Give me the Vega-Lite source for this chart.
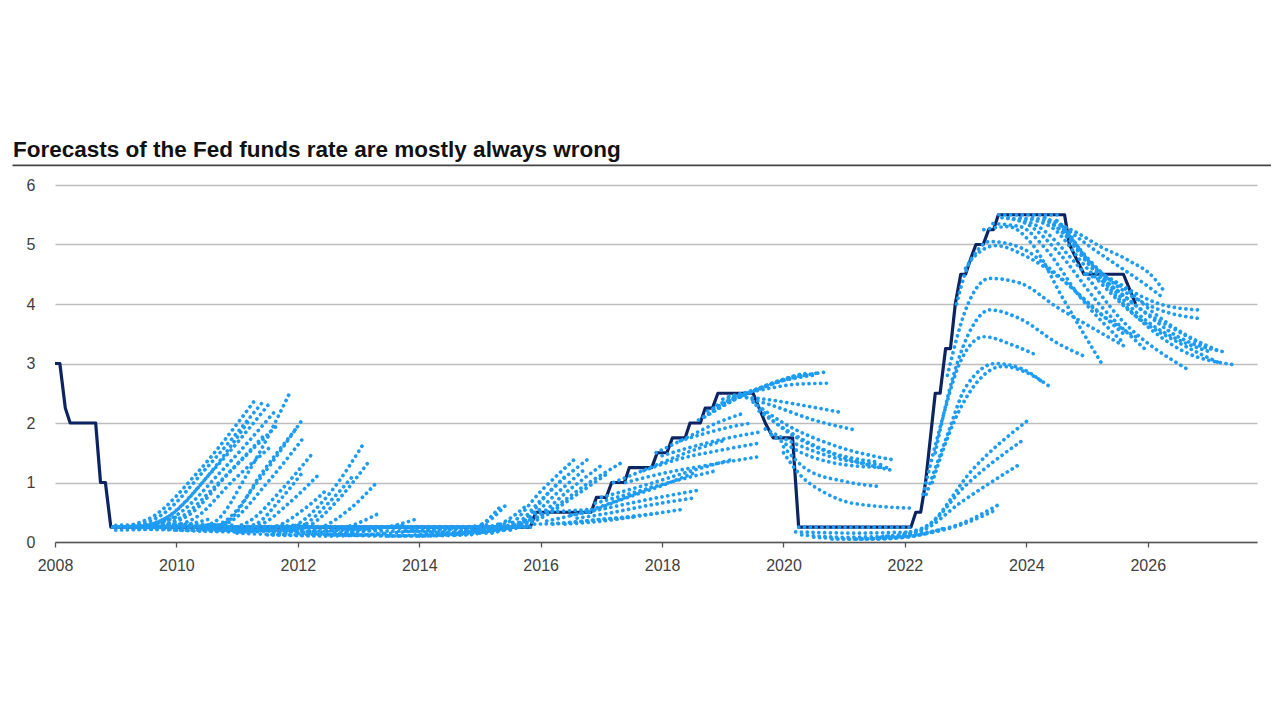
{
"$schema":"https://vega.github.io/schema/vega-lite/v6.json",
"width":1202,"height":357,
"autosize":{"type":"none"},
"padding":{"left":55,"top":185,"right":23,"bottom":178},
"background":"white",
"title":{"text":"Forecasts of the Fed funds rate are mostly always wrong","anchor":"start","frame":"group","dx":-42,"offset":3,"fontSize":22.5,"fontWeight":"bold","font":"Liberation Sans","color":"#111111"},
"config":{"view":{"stroke":null},"axis":{"labelFont":"Liberation Sans","labelFontSize":16,"labelColor":"#404040","title":null}},
"datasets":{
"rule":[{"t":2007.3,"t2":2028.03,"r":6.33}],
"rate":[
{"t":2008.0,"r":3.0},{"t":2008.08,"r":3.0},{"t":2008.17,"r":2.25},{"t":2008.25,"r":2.0},{"t":2008.67,"r":2.0},{"t":2008.75,"r":1.0},{"t":2008.83,"r":1.0},{"t":2008.92,"r":0.25},
{"t":2015.83,"r":0.25},{"t":2015.92,"r":0.5},{"t":2016.83,"r":0.5},{"t":2016.92,"r":0.75},{"t":2017.08,"r":0.75},{"t":2017.17,"r":1.0},{"t":2017.38,"r":1.0},{"t":2017.46,"r":1.25},{"t":2017.83,"r":1.25},{"t":2017.92,"r":1.5},{"t":2018.08,"r":1.5},{"t":2018.17,"r":1.75},{"t":2018.38,"r":1.75},{"t":2018.46,"r":2.0},{"t":2018.63,"r":2.0},{"t":2018.71,"r":2.25},{"t":2018.83,"r":2.25},{"t":2018.92,"r":2.5},
{"t":2019.5,"r":2.5},{"t":2019.6,"r":2.25},{"t":2019.7,"r":2.0},{"t":2019.83,"r":1.75},{"t":2020.15,"r":1.75},{"t":2020.25,"r":0.25},
{"t":2022.1,"r":0.25},{"t":2022.18,"r":0.5},{"t":2022.26,"r":0.5},{"t":2022.34,"r":1.0},{"t":2022.42,"r":1.75},{"t":2022.5,"r":2.5},{"t":2022.58,"r":2.5},{"t":2022.67,"r":3.25},{"t":2022.75,"r":3.25},{"t":2022.83,"r":4.0},{"t":2022.92,"r":4.5},{"t":2023.0,"r":4.5},{"t":2023.08,"r":4.75},{"t":2023.17,"r":5.0},{"t":2023.29,"r":5.0},{"t":2023.38,"r":5.25},{"t":2023.46,"r":5.25},{"t":2023.54,"r":5.5},
{"t":2024.63,"r":5.5},{"t":2024.71,"r":5.0},{"t":2024.83,"r":4.75},{"t":2024.95,"r":4.5},{"t":2025.6,"r":4.5},{"t":2025.7,"r":4.25},{"t":2025.8,"r":4.0}
],
"fc":[
{"id":"h0","t":2008.95,"r":0.25},{"id":"h0","t":2012.0,"r":0.25},{"id":"h0","t":2015.85,"r":0.25},
{"id":"h0b","t":2008.99,"r":0.26},{"id":"h0b","t":2012.0,"r":0.26},{"id":"h0b","t":2015.8,"r":0.26},
{"id":"m1","t":2009.0,"r":0.28},{"id":"m1","t":2010.0,"r":0.3},{"id":"m1","t":2011.0,"r":0.28},
{"id":"m2","t":2009.3,"r":0.22},{"id":"m2","t":2010.3,"r":0.2},{"id":"m2","t":2011.3,"r":0.22},
{"id":"m3","t":2009.8,"r":0.22},{"id":"m3","t":2010.8,"r":0.18},{"id":"m3","t":2011.8,"r":0.2},
{"id":"m4","t":2010.2,"r":0.27},{"id":"m4","t":2011.2,"r":0.25},{"id":"m4","t":2012.2,"r":0.3},
{"id":"m5","t":2011.2,"r":0.2},{"id":"m5","t":2012.2,"r":0.18},{"id":"m5","t":2013.2,"r":0.22},
{"id":"m6","t":2011.8,"r":0.25},{"id":"m6","t":2012.8,"r":0.22},{"id":"m6","t":2013.8,"r":0.28},
{"id":"m7","t":2012.8,"r":0.2},{"id":"m7","t":2013.8,"r":0.18},{"id":"m7","t":2014.8,"r":0.25},
{"id":"m8","t":2013.2,"r":0.25},{"id":"m8","t":2014.2,"r":0.22},{"id":"m8","t":2015.2,"r":0.3},
{"id":"m9","t":2014.5,"r":0.2},{"id":"m9","t":2015.2,"r":0.22},{"id":"m9","t":2015.9,"r":0.4},
{"id":"m10","t":2013.8,"r":0.18},{"id":"m10","t":2014.8,"r":0.16},{"id":"m10","t":2015.6,"r":0.25},
{"id":"a0","t":2008.95,"r":0.25},{"id":"a0","t":2009.5,"r":0.28},{"id":"a0","t":2010.0,"r":0.42},
{"id":"a0b","t":2009.0,"r":0.2},{"id":"a0b","t":2009.6,"r":0.22},{"id":"a0b","t":2010.2,"r":0.3},{"id":"a0b","t":2010.6,"r":0.4},
{"id":"a1","t":2009.2,"r":0.27},{"id":"a1","t":2009.6,"r":0.42},{"id":"a1","t":2010.34,"r":1.16},{"id":"a1","t":2011.32,"r":2.42},
{"id":"a2","t":2009.3,"r":0.26},{"id":"a2","t":2009.75,"r":0.45},{"id":"a2","t":2010.5,"r":1.25},{"id":"a2","t":2011.42,"r":2.35},
{"id":"a3","t":2009.4,"r":0.25},{"id":"a3","t":2009.85,"r":0.42},{"id":"a3","t":2010.6,"r":1.2},{"id":"a3","t":2011.51,"r":2.3},
{"id":"a4","t":2009.5,"r":0.25},{"id":"a4","t":2010.0,"r":0.45},{"id":"a4","t":2010.75,"r":1.2},{"id":"a4","t":2011.6,"r":2.17},
{"id":"a5","t":2009.45,"r":0.25},{"id":"a5","t":2009.9,"r":0.45},{"id":"a5","t":2010.55,"r":1.15},{"id":"a5","t":2011.2,"r":2.05},
{"id":"a6","t":2009.6,"r":0.25},{"id":"a6","t":2010.05,"r":0.4},{"id":"a6","t":2010.7,"r":1.0},{"id":"a6","t":2011.45,"r":1.8},
{"id":"a7","t":2009.7,"r":0.25},{"id":"a7","t":2010.2,"r":0.45},{"id":"a7","t":2010.9,"r":1.2},{"id":"a7","t":2011.65,"r":1.95},
{"id":"a8","t":2009.8,"r":0.25},{"id":"a8","t":2010.3,"r":0.4},{"id":"a8","t":2010.95,"r":1.05},{"id":"a8","t":2011.55,"r":1.6},
{"id":"a9","t":2010.3,"r":0.25},{"id":"a9","t":2010.6,"r":0.32},{"id":"a9","t":2011.2,"r":1.2},{"id":"a9","t":2011.86,"r":2.49},
{"id":"a10","t":2010.4,"r":0.22},{"id":"a10","t":2010.8,"r":0.35},{"id":"a10","t":2011.4,"r":1.1},{"id":"a10","t":2012.05,"r":2.02},
{"id":"a11","t":2010.5,"r":0.22},{"id":"a11","t":2010.9,"r":0.35},{"id":"a11","t":2011.5,"r":1.0},{"id":"a11","t":2012.1,"r":1.76},
{"id":"a12","t":2010.45,"r":0.22},{"id":"a12","t":2010.85,"r":0.35},{"id":"a12","t":2011.4,"r":1.15},{"id":"a12","t":2011.99,"r":1.93},
{"id":"a13","t":2010.7,"r":0.2},{"id":"a13","t":2011.2,"r":0.35},{"id":"a13","t":2011.75,"r":0.9},{"id":"a13","t":2012.25,"r":1.5},
{"id":"a14","t":2010.9,"r":0.2},{"id":"a14","t":2011.4,"r":0.3},{"id":"a14","t":2011.85,"r":0.65},{"id":"a14","t":2012.34,"r":1.13},
{"id":"a15","t":2010.8,"r":0.2},{"id":"a15","t":2011.3,"r":0.3},{"id":"a15","t":2011.7,"r":0.7},{"id":"a15","t":2012.1,"r":1.2},
{"id":"a16","t":2011.0,"r":0.18},{"id":"a16","t":2011.6,"r":0.25},{"id":"a16","t":2012.1,"r":0.55},{"id":"a16","t":2012.5,"r":0.9},
{"id":"a17","t":2011.6,"r":0.15},{"id":"a17","t":2012.0,"r":0.3},{"id":"a17","t":2012.55,"r":0.85},{"id":"a17","t":2013.08,"r":1.65},
{"id":"a18","t":2011.8,"r":0.15},{"id":"a18","t":2012.2,"r":0.28},{"id":"a18","t":2012.7,"r":0.75},{"id":"a18","t":2013.19,"r":1.38},
{"id":"a19","t":2012.0,"r":0.15},{"id":"a19","t":2012.4,"r":0.25},{"id":"a19","t":2012.85,"r":0.55},{"id":"a19","t":2013.3,"r":1.0},
{"id":"a20","t":2011.7,"r":0.15},{"id":"a20","t":2012.1,"r":0.28},{"id":"a20","t":2012.5,"r":0.65},{"id":"a20","t":2012.9,"r":1.1},
{"id":"a21","t":2012.2,"r":0.15},{"id":"a21","t":2012.6,"r":0.2},{"id":"a21","t":2013.0,"r":0.32},{"id":"a21","t":2013.33,"r":0.48},
{"id":"a22","t":2012.6,"r":0.15},{"id":"a22","t":2013.1,"r":0.18},{"id":"a22","t":2013.6,"r":0.28},{"id":"a22","t":2014.0,"r":0.4},
{"id":"l1","t":2010.0,"r":0.2},{"id":"l1","t":2011.0,"r":0.17},{"id":"l1","t":2012.0,"r":0.2},
{"id":"l2","t":2011.0,"r":0.15},{"id":"l2","t":2012.0,"r":0.12},{"id":"l2","t":2013.0,"r":0.15},
{"id":"l3","t":2011.5,"r":0.12},{"id":"l3","t":2012.5,"r":0.1},{"id":"l3","t":2013.5,"r":0.15},
{"id":"l4","t":2012.0,"r":0.15},{"id":"l4","t":2013.0,"r":0.12},{"id":"l4","t":2014.0,"r":0.2},
{"id":"l5","t":2012.5,"r":0.12},{"id":"l5","t":2013.5,"r":0.1},{"id":"l5","t":2014.5,"r":0.18},
{"id":"l6","t":2013.0,"r":0.12},{"id":"l6","t":2014.0,"r":0.1},{"id":"l6","t":2015.0,"r":0.2},
{"id":"l7","t":2013.5,"r":0.1},{"id":"l7","t":2014.5,"r":0.12},{"id":"l7","t":2015.3,"r":0.3},
{"id":"l8","t":2014.0,"r":0.1},{"id":"l8","t":2014.8,"r":0.12},{"id":"l8","t":2015.5,"r":0.35},
{"id":"l9","t":2010.5,"r":0.22},{"id":"l9","t":2011.5,"r":0.2},{"id":"l9","t":2012.3,"r":0.26},
{"id":"b1","t":2014.3,"r":0.12},{"id":"b1","t":2014.8,"r":0.2},{"id":"b1","t":2015.2,"r":0.4},{"id":"b1","t":2015.47,"r":0.67},
{"id":"b2","t":2014.2,"r":0.12},{"id":"b2","t":2014.7,"r":0.18},{"id":"b2","t":2015.1,"r":0.35},{"id":"b2","t":2015.33,"r":0.59},
{"id":"b3","t":2014.6,"r":0.12},{"id":"b3","t":2015.1,"r":0.2},{"id":"b3","t":2015.5,"r":0.4},{"id":"b3","t":2015.75,"r":0.6},
{"id":"b4","t":2015.0,"r":0.15},{"id":"b4","t":2015.5,"r":0.3},{"id":"b4","t":2016.0,"r":0.85},{"id":"b4","t":2016.6,"r":1.43},
{"id":"b5","t":2015.2,"r":0.15},{"id":"b5","t":2015.7,"r":0.35},{"id":"b5","t":2016.2,"r":0.9},{"id":"b5","t":2016.79,"r":1.4},
{"id":"b6","t":2015.4,"r":0.2},{"id":"b6","t":2015.9,"r":0.4},{"id":"b6","t":2016.5,"r":0.9},{"id":"b6","t":2017.03,"r":1.31},
{"id":"b7","t":2015.6,"r":0.25},{"id":"b7","t":2016.1,"r":0.5},{"id":"b7","t":2016.8,"r":1.0},{"id":"b7","t":2017.36,"r":1.35},
{"id":"b8","t":2015.1,"r":0.15},{"id":"b8","t":2015.6,"r":0.3},{"id":"b8","t":2016.0,"r":0.7},{"id":"b8","t":2016.4,"r":1.1},
{"id":"b9","t":2015.3,"r":0.2},{"id":"b9","t":2015.8,"r":0.4},{"id":"b9","t":2016.3,"r":0.85},{"id":"b9","t":2016.7,"r":1.2},
{"id":"b10","t":2015.5,"r":0.2},{"id":"b10","t":2016.0,"r":0.4},{"id":"b10","t":2016.6,"r":0.8},{"id":"b10","t":2017.1,"r":1.15},
{"id":"b11","t":2016.5,"r":0.45},{"id":"b11","t":2017.0,"r":0.55},{"id":"b11","t":2017.8,"r":0.72},{"id":"b11","t":2018.6,"r":0.87},
{"id":"b12","t":2016.6,"r":0.4},{"id":"b12","t":2017.1,"r":0.48},{"id":"b12","t":2017.8,"r":0.62},{"id":"b12","t":2018.52,"r":0.74},
{"id":"b13","t":2016.4,"r":0.3},{"id":"b13","t":2017.0,"r":0.35},{"id":"b13","t":2017.7,"r":0.45},{"id":"b13","t":2018.35,"r":0.55},
{"id":"b14","t":2016.2,"r":0.3},{"id":"b14","t":2016.7,"r":0.35},{"id":"b14","t":2017.4,"r":0.42},{"id":"b14","t":2017.97,"r":0.49},
{"id":"b15","t":2015.9,"r":0.3},{"id":"b15","t":2016.4,"r":0.32},{"id":"b15","t":2017.0,"r":0.38},{"id":"b15","t":2017.53,"r":0.42},
{"id":"b16","t":2016.1,"r":0.35},{"id":"b16","t":2016.7,"r":0.5},{"id":"b16","t":2017.4,"r":0.75},{"id":"b16","t":2017.9,"r":0.95},
{"id":"b17","t":2016.8,"r":0.5},{"id":"b17","t":2017.3,"r":0.7},{"id":"b17","t":2018.0,"r":0.95},{"id":"b17","t":2018.5,"r":1.15},
{"id":"b18","t":2015.9,"r":0.5},{"id":"b18","t":2016.4,"r":0.52},{"id":"b18","t":2016.85,"r":0.55},
{"id":"c1","t":2017.4,"r":1.0},{"id":"c1","t":2018.0,"r":1.15},{"id":"c1","t":2018.8,"r":1.3},{"id":"c1","t":2019.57,"r":1.43},
{"id":"c2","t":2017.7,"r":1.2},{"id":"c2","t":2018.3,"r":1.4},{"id":"c2","t":2019.0,"r":1.55},{"id":"c2","t":2019.59,"r":1.66},
{"id":"c3","t":2018.0,"r":1.45},{"id":"c3","t":2018.5,"r":1.6},{"id":"c3","t":2019.1,"r":1.75},{"id":"c3","t":2019.62,"r":1.85},
{"id":"c4","t":2018.3,"r":1.7},{"id":"c4","t":2018.8,"r":1.85},{"id":"c4","t":2019.2,"r":1.95},{"id":"c4","t":2019.46,"r":2.0},
{"id":"c5","t":2017.0,"r":0.75},{"id":"c5","t":2017.7,"r":0.95},{"id":"c5","t":2018.5,"r":1.2},{"id":"c5","t":2019.2,"r":1.4},
{"id":"c6","t":2016.9,"r":0.65},{"id":"c6","t":2017.6,"r":0.85},{"id":"c6","t":2018.3,"r":1.05},{"id":"c6","t":2018.9,"r":1.2},
{"id":"c7","t":2017.2,"r":1.0},{"id":"c7","t":2017.8,"r":1.25},{"id":"c7","t":2018.4,"r":1.5},{"id":"c7","t":2019.0,"r":1.7},
{"id":"c8","t":2017.9,"r":1.5},{"id":"c8","t":2018.4,"r":1.75},{"id":"c8","t":2018.9,"r":2.0},{"id":"c8","t":2019.3,"r":2.15},
{"id":"d1","t":2018.6,"r":2.05},{"id":"d1","t":2019.2,"r":2.4},{"id":"d1","t":2019.8,"r":2.65},{"id":"d1","t":2020.23,"r":2.81},
{"id":"d1b","t":2018.7,"r":2.1},{"id":"d1b","t":2019.25,"r":2.42},{"id":"d1b","t":2019.85,"r":2.68},{"id":"d1b","t":2020.32,"r":2.83},
{"id":"d2","t":2018.75,"r":2.2},{"id":"d2","t":2019.3,"r":2.45},{"id":"d2","t":2019.9,"r":2.7},{"id":"d2","t":2020.4,"r":2.84},
{"id":"d2b","t":2018.85,"r":2.25},{"id":"d2b","t":2019.35,"r":2.48},{"id":"d2b","t":2019.95,"r":2.7},{"id":"d2b","t":2020.48,"r":2.8},
{"id":"d3","t":2018.9,"r":2.3},{"id":"d3","t":2019.4,"r":2.5},{"id":"d3","t":2020.0,"r":2.72},{"id":"d3","t":2020.56,"r":2.84},
{"id":"d4","t":2019.0,"r":2.4},{"id":"d4","t":2019.5,"r":2.55},{"id":"d4","t":2020.1,"r":2.75},{"id":"d4","t":2020.72,"r":2.86},
{"id":"d5","t":2019.1,"r":2.45},{"id":"d5","t":2019.6,"r":2.55},{"id":"d5","t":2020.2,"r":2.65},{"id":"d5","t":2020.8,"r":2.67},
{"id":"d6","t":2019.2,"r":2.45},{"id":"d6","t":2019.7,"r":2.4},{"id":"d6","t":2020.3,"r":2.3},{"id":"d6","t":2020.99,"r":2.17},
{"id":"d7","t":2019.3,"r":2.45},{"id":"d7","t":2019.8,"r":2.3},{"id":"d7","t":2020.5,"r":2.05},{"id":"d7","t":2021.19,"r":1.88},
{"id":"d8","t":2019.5,"r":2.35},{"id":"d8","t":2020.0,"r":2.0},{"id":"d8","t":2020.9,"r":1.6},{"id":"d8","t":2021.81,"r":1.38},
{"id":"d9","t":2019.55,"r":2.3},{"id":"d9","t":2020.0,"r":1.9},{"id":"d9","t":2020.9,"r":1.45},{"id":"d9","t":2021.76,"r":1.21},
{"id":"d10","t":2020.0,"r":1.6},{"id":"d10","t":2020.4,"r":1.21},{"id":"d10","t":2021.0,"r":1.02},{"id":"d10","t":2021.6,"r":0.93},
{"id":"d11","t":2019.7,"r":1.9},{"id":"d11","t":2020.2,"r":1.65},{"id":"d11","t":2020.9,"r":1.4},{"id":"d11","t":2021.6,"r":1.3},
{"id":"d12","t":2019.8,"r":1.8},{"id":"d12","t":2020.3,"r":1.5},{"id":"d12","t":2021.0,"r":1.3},{"id":"d12","t":2021.7,"r":1.25},
{"id":"d13","t":2020.0,"r":1.5},{"id":"d13","t":2020.3,"r":1.1},{"id":"d13","t":2020.66,"r":0.84},{"id":"d13","t":2021.15,"r":0.65},{"id":"d13","t":2022.09,"r":0.57},
{"id":"d14","t":2019.6,"r":2.2},{"id":"d14","t":2020.1,"r":1.85},{"id":"d14","t":2020.8,"r":1.5},{"id":"d14","t":2021.5,"r":1.35},
{"id":"e0","t":2020.2,"r":0.17},{"id":"e0","t":2021.2,"r":0.15},{"id":"e0","t":2022.1,"r":0.17},
{"id":"e1","t":2020.3,"r":0.12},{"id":"e1","t":2021.0,"r":0.08},{"id":"e1","t":2021.8,"r":0.1},
{"id":"e2","t":2020.5,"r":0.08},{"id":"e2","t":2021.3,"r":0.05},{"id":"e2","t":2022.1,"r":0.1},
{"id":"e3","t":2020.8,"r":0.05},{"id":"e3","t":2021.6,"r":0.05},{"id":"e3","t":2022.4,"r":0.15},
{"id":"e4","t":2021.2,"r":0.05},{"id":"e4","t":2022.0,"r":0.08},{"id":"e4","t":2022.7,"r":0.25},
{"id":"h2","t":2020.25,"r":0.25},{"id":"h2","t":2021.2,"r":0.25},{"id":"h2","t":2022.1,"r":0.25},
{"id":"f1","t":2021.7,"r":0.1},{"id":"f1","t":2022.3,"r":0.15},{"id":"f1","t":2022.9,"r":0.3},{"id":"f1","t":2023.58,"r":0.65},
{"id":"f2","t":2021.6,"r":0.08},{"id":"f2","t":2022.2,"r":0.12},{"id":"f2","t":2022.9,"r":0.28},{"id":"f2","t":2023.5,"r":0.54},
{"id":"f3","t":2021.8,"r":0.1},{"id":"f3","t":2022.3,"r":0.2},{"id":"f3","t":2022.9,"r":0.65},{"id":"f3","t":2023.88,"r":1.3},
{"id":"f4","t":2021.9,"r":0.12},{"id":"f4","t":2022.35,"r":0.25},{"id":"f4","t":2023.0,"r":0.95},{"id":"f4","t":2023.94,"r":1.71},
{"id":"f5","t":2022.0,"r":0.15},{"id":"f5","t":2022.4,"r":0.3},{"id":"f5","t":2023.1,"r":1.2},{"id":"f5","t":2024.07,"r":2.08},
{"id":"f6","t":2022.3,"r":0.8},{"id":"f6","t":2022.6,"r":2.0},{"id":"f6","t":2022.9,"r":3.0},{"id":"f6","t":2023.3,"r":3.45},{"id":"f6","t":2023.8,"r":3.3},{"id":"f6","t":2024.15,"r":3.15},
{"id":"f7","t":2022.35,"r":0.8},{"id":"f7","t":2022.7,"r":1.8},{"id":"f7","t":2023.0,"r":2.6},{"id":"f7","t":2023.5,"r":3.0},{"id":"f7","t":2023.95,"r":2.9},{"id":"f7","t":2024.29,"r":2.67},
{"id":"f8","t":2022.45,"r":1.0},{"id":"f8","t":2022.8,"r":2.0},{"id":"f8","t":2023.2,"r":2.7},{"id":"f8","t":2023.6,"r":2.95},{"id":"f8","t":2024.0,"r":2.85},{"id":"f8","t":2024.43,"r":2.58},
{"id":"f9","t":2022.5,"r":1.5},{"id":"f9","t":2022.8,"r":2.8},{"id":"f9","t":2023.1,"r":3.6},{"id":"f9","t":2023.4,"r":3.9},{"id":"f9","t":2023.9,"r":3.75},{"id":"f9","t":2024.5,"r":3.35},{"id":"f9","t":2025.0,"r":3.1},
{"id":"f10","t":2022.7,"r":2.8},{"id":"f10","t":2023.0,"r":3.9},{"id":"f10","t":2023.4,"r":4.43},{"id":"f10","t":2023.9,"r":4.35},{"id":"f10","t":2024.5,"r":3.95},{"id":"f10","t":2025.0,"r":3.65},{"id":"f10","t":2025.6,"r":3.3},
{"id":"f11","t":2022.85,"r":4.0},{"id":"f11","t":2023.1,"r":4.75},{"id":"f11","t":2023.5,"r":4.98},{"id":"f11","t":2024.0,"r":4.8},{"id":"f11","t":2024.6,"r":4.4},{"id":"f11","t":2025.1,"r":3.95},{"id":"f11","t":2025.6,"r":3.5},
{"id":"g0","t":2023.0,"r":4.6},{"id":"g0","t":2023.4,"r":5.05},{"id":"g0","t":2023.9,"r":4.95},{"id":"g0","t":2024.5,"r":4.5},{"id":"g0","t":2025.2,"r":3.85},{"id":"g0","t":2025.8,"r":3.45},
{"id":"h1","t":2023.55,"r":5.5},{"id":"h1","t":2024.0,"r":5.5},{"id":"h1","t":2024.6,"r":5.5},
{"id":"g1","t":2023.3,"r":5.25},{"id":"g1","t":2023.7,"r":5.3},{"id":"g1","t":2024.1,"r":5.0},{"id":"g1","t":2024.6,"r":4.1},{"id":"g1","t":2025.27,"r":2.95},
{"id":"g2","t":2023.45,"r":5.35},{"id":"g2","t":2023.9,"r":5.3},{"id":"g2","t":2024.3,"r":4.95},{"id":"g2","t":2024.9,"r":4.1},{"id":"g2","t":2025.6,"r":3.35},
{"id":"g3","t":2023.6,"r":5.45},{"id":"g3","t":2024.0,"r":5.35},{"id":"g3","t":2024.5,"r":4.9},{"id":"g3","t":2025.2,"r":4.0},{"id":"g3","t":2026.0,"r":3.2},
{"id":"g4","t":2023.7,"r":5.45},{"id":"g4","t":2024.2,"r":5.3},{"id":"g4","t":2024.8,"r":4.7},{"id":"g4","t":2025.6,"r":3.7},{"id":"g4","t":2026.66,"r":2.9},
{"id":"g5","t":2023.9,"r":5.45},{"id":"g5","t":2024.4,"r":5.3},{"id":"g5","t":2025.0,"r":4.6},{"id":"g5","t":2025.8,"r":3.8},{"id":"g5","t":2026.6,"r":3.3},{"id":"g5","t":2027.2,"r":3.0},
{"id":"g6","t":2024.1,"r":5.45},{"id":"g6","t":2024.5,"r":5.3},{"id":"g6","t":2025.0,"r":4.7},{"id":"g6","t":2025.8,"r":3.8},{"id":"g6","t":2026.6,"r":3.2},{"id":"g6","t":2027.42,"r":2.98},
{"id":"g7","t":2024.3,"r":5.45},{"id":"g7","t":2024.6,"r":5.2},{"id":"g7","t":2025.1,"r":4.6},{"id":"g7","t":2025.9,"r":3.9},{"id":"g7","t":2026.5,"r":3.45},{"id":"g7","t":2027.28,"r":3.19},
{"id":"g8","t":2024.5,"r":5.4},{"id":"g8","t":2024.8,"r":5.0},{"id":"g8","t":2025.3,"r":4.4},{"id":"g8","t":2026.0,"r":3.7},{"id":"g8","t":2026.5,"r":3.4},{"id":"g8","t":2027.04,"r":3.19},
{"id":"g9","t":2024.6,"r":5.3},{"id":"g9","t":2024.9,"r":4.9},{"id":"g9","t":2025.5,"r":4.3},{"id":"g9","t":2026.2,"r":3.9},{"id":"g9","t":2026.82,"r":3.76},
{"id":"g10","t":2024.7,"r":5.2},{"id":"g10","t":2025.0,"r":4.75},{"id":"g10","t":2025.6,"r":4.3},{"id":"g10","t":2026.2,"r":4.0},{"id":"g10","t":2026.82,"r":3.9},
{"id":"g11","t":2024.3,"r":5.45},{"id":"g11","t":2024.85,"r":5.19},{"id":"g11","t":2025.23,"r":4.96},{"id":"g11","t":2025.67,"r":4.74},{"id":"g11","t":2026.1,"r":4.44},{"id":"g11","t":2026.26,"r":4.23},
{"id":"g12","t":2024.5,"r":5.4},{"id":"g12","t":2025.0,"r":5.0},{"id":"g12","t":2025.5,"r":4.65},{"id":"g12","t":2026.0,"r":4.3},{"id":"g12","t":2026.26,"r":4.1},
{"id":"g14","t":2025.0,"r":4.5},{"id":"g14","t":2025.4,"r":4.3},{"id":"g14","t":2025.9,"r":3.9},{"id":"g14","t":2026.4,"r":3.6},{"id":"g14","t":2027.0,"r":3.25},
{"id":"g15","t":2025.3,"r":4.45},{"id":"g15","t":2025.7,"r":4.2},{"id":"g15","t":2026.1,"r":3.85},{"id":"g15","t":2026.6,"r":3.5},{"id":"g15","t":2027.2,"r":3.2}
]
},
"layer":[
{"data":{"name":"rule"},
 "mark":{"type":"rule","color":"#444444","strokeWidth":1.6},
 "encoding":{
  "x":{"field":"t","type":"quantitative","scale":{"domain":[2008,2027.8],"nice":false,"zero":false},
       "axis":{"values":[2008,2010,2012,2014,2016,2018,2020,2022,2024,2026],"format":"d","grid":false,"domainColor":"#555555","domainWidth":1.5,"tickColor":"#555555","tickSize":5,"tickWidth":1.3,"labelPadding":10,"labelFlush":false}},
  "x2":{"field":"t2"},
  "y":{"field":"r","type":"quantitative","scale":{"domain":[0,6],"nice":false,"zero":true},
       "axis":{"values":[0,1,2,3,4,5,6],"format":"d","grid":true,"gridColor":"#bdbdbd","gridWidth":1.5,"domain":false,"ticks":false,"labelPadding":20}}
 }},
{"data":{"name":"rate"},
 "mark":{"type":"line","color":"#0c2461","strokeWidth":3.2,"strokeJoin":"round"},
 "encoding":{
  "x":{"field":"t","type":"quantitative"},
  "y":{"field":"r","type":"quantitative"}
 }},
{"data":{"name":"fc"},
 "mark":{"type":"line","color":"#1e9cf3","strokeWidth":3.7,"strokeCap":"round","strokeDash":[0.1,5.7],"interpolate":"monotone"},
 "encoding":{
  "x":{"field":"t","type":"quantitative"},
  "y":{"field":"r","type":"quantitative"},
  "detail":{"field":"id","type":"nominal"}
 }}
]
}
